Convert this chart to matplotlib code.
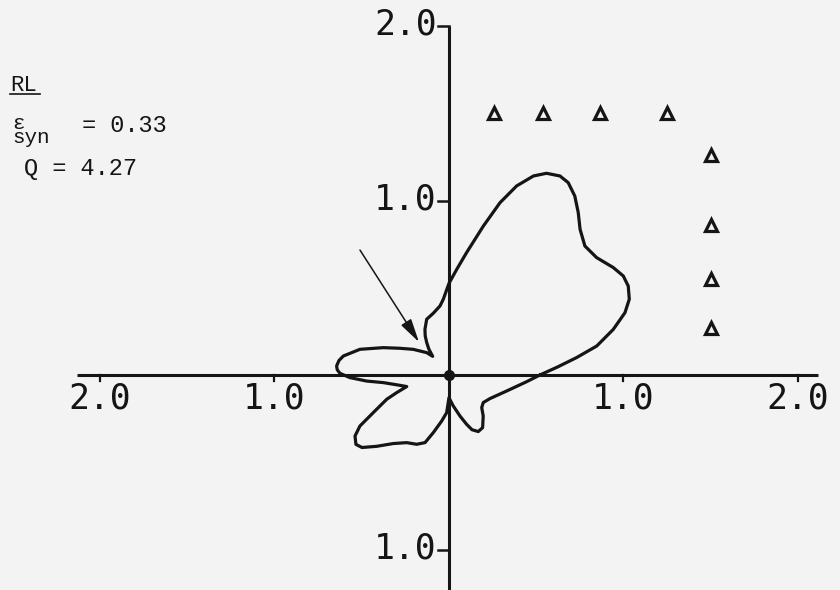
import numpy as np
import matplotlib
matplotlib.use("Agg")
import matplotlib.pyplot as plt

# Radiation pattern (angle in degrees from +x axis, normalised radius)
theta_deg = [0, 4.3, 7.8, 11.1, 15.5, 19.5, 22.8, 26.4, 29.6, 33.2, 38.5, 43.5,
             48.0, 51.5, 54.9, 58.2, 60.85, 64.2, 67.0, 70.3, 73.5, 77.0, 81.8,
             85.8, 90.0, 94.3, 97.4, 104.3, 111.8, 117.7, 121.3, 124.5, 127.9,
             131.1, 134.9, 144.3, 151.4, 157.4, 163.9, 169.8, 172.5, 175.4, 177.3,
             179.1, 181.5, 184.2, 186.6, 191.9, 195.3, 198.6, 201.3, 206.4, 209.8,
             213.0, 216.7, 219.8, 224.6, 230.9, 238.0, 245.0, 250.5, 254.8, 261.0,
             266.5, 270.0, 277.9, 285.0, 289.7, 292.8, 297.4, 302.6, 309.9, 315.1,
             321.2, 330.1, 344.5, 355.1]
radius = [0.521, 0.626, 0.739, 0.863, 0.977, 1.070, 1.121, 1.147, 1.149, 1.125,
          1.081, 1.074, 1.123, 1.190, 1.254, 1.297, 1.306, 1.284, 1.239, 1.151,
          1.030, 0.876, 0.709, 0.607, 0.525, 0.435, 0.399, 0.365, 0.344, 0.296,
          0.262, 0.225, 0.187, 0.142, 0.181, 0.252, 0.320, 0.408, 0.531, 0.615,
          0.636, 0.646, 0.641, 0.625, 0.568, 0.473, 0.379, 0.287, 0.251, 0.316,
          0.383, 0.484, 0.588, 0.642, 0.665, 0.649, 0.582, 0.506, 0.457, 0.438,
          0.411, 0.342, 0.267, 0.216, 0.130, 0.179, 0.243, 0.300, 0.340, 0.365,
          0.358, 0.306, 0.265, 0.252, 0.271, 0.343, 0.447]

# Array element positions (L-shaped array)
row_x = [0.26, 0.54, 0.865, 1.25]
row_y = [1.5, 1.5, 1.5, 1.5]
col_x = [1.5, 1.5, 1.5, 1.5]
col_y = [1.26, 0.86, 0.55, 0.27]

x_ticks = [-2.0, -1.0, 1.0, 2.0]
x_tick_labels = ["2.0", "1.0", "1.0", "2.0"]
y_ticks = [2.0, 1.0, -1.0]
y_tick_labels = ["2.0", "1.0", "1.0"]

ink = "#151515"
paper = "#f3f3f3"

fig = plt.figure(figsize=(8.4, 5.9), dpi=100, facecolor=paper)
ax = fig.add_axes([0, 0, 1, 1])
ax.set_facecolor(paper)
ax.set_xlim(-2.573, 2.241)
ax.set_ylim(-1.232, 2.149)
ax.axis("off")

# Cross axes
ax.plot([-2.13, 2.115], [0, 0], color=ink, lw=2.2, solid_capstyle="butt")
ax.plot([0, 0], [-1.3, 2.0], color=ink, lw=2.2, solid_capstyle="butt")

mono = "DejaVu Sans Mono"
for xv, lab in zip(x_ticks, x_tick_labels):
    ax.plot([xv, xv], [0, -0.035], color=ink, lw=1.6)
    ax.text(xv, -0.135, lab, ha="center", va="center", fontsize=25,
            family=mono, color=ink)
for yv, lab in zip(y_ticks, y_tick_labels):
    ax.plot([-0.065, 0], [yv, yv], color=ink, lw=1.8)
    ax.text(-0.069, yv + 0.008, lab, ha="right", va="center", fontsize=25,
            family=mono, color=ink)

# Pattern curve
th = np.deg2rad(np.append(theta_deg, theta_deg[0]))
r = np.append(radius, radius[0])
ax.plot(r * np.cos(th), r * np.sin(th), color=ink, lw=2.3,
        solid_joinstyle="round", solid_capstyle="round")

# Origin dot
ax.plot([0], [0], "o", color=ink, markersize=7)

# Element markers
ax.plot(row_x, row_y, "^", mfc="none", mec=ink, mew=2.3, markersize=8, ls="none")
ax.plot(col_x, col_y, "^", mfc="none", mec=ink, mew=2.3, markersize=8, ls="none")

# Arrow marking the notch
ax.annotate("", xy=(-0.172, 0.189), xytext=(-0.51, 0.716),
            arrowprops=dict(arrowstyle="-|>,head_length=0.8,head_width=0.2",
                            lw=1.1, color=ink, mutation_scale=18,
                            shrinkA=0, shrinkB=0))

# Parameter block
tf = "Liberation Mono"
H = 590.0
W = 840.0
fig.text(10 / W, 1 - 91 / H, "RL", ha="left", va="baseline", fontsize=16,
         family=tf, color=ink)
fig.add_artist(plt.Line2D([10 / W, 40 / W], [1 - 94 / H, 1 - 94 / H],
                          color=ink, lw=1.2))
fig.text(12 / W, 1 - 143 / H, "ε\nsyn", ha="left", va="baseline", fontsize=15,
         family=tf, color=ink, linespacing=0.68)
fig.text(82 / W, 1 - 132 / H, "= 0.33", ha="left", va="baseline", fontsize=17,
         family=tf, color=ink)
fig.text(24 / W, 1 - 175 / H, "Q = 4.27", ha="left", va="baseline", fontsize=17,
         family=tf, color=ink)

fig.savefig("out.png", dpi=100, facecolor=paper)
